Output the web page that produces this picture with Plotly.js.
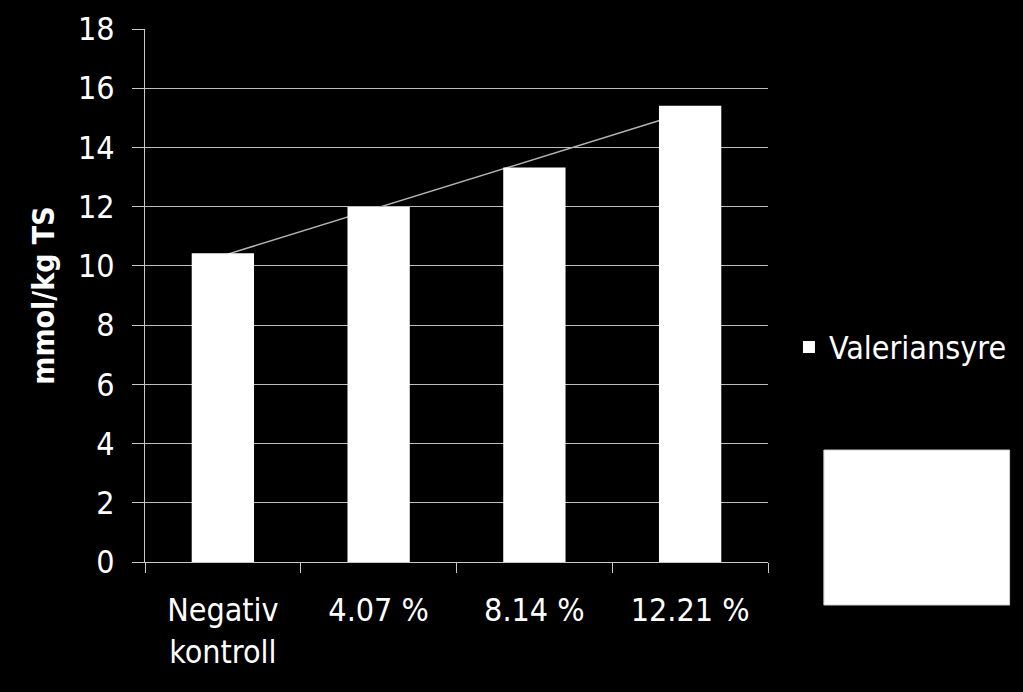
<!DOCTYPE html>
<html>
<head>
<meta charset="utf-8">
<script src="https://cdn.plot.ly/plotly-3.0.1.min.js"></script>
<style>
  html, body { margin: 0; padding: 0; background: #000; }
  #chart { width: 1023px; height: 692px; }
</style>
</head>
<body>
<div id="chart"></div>
<script>
// Categories and values
const categories = ['Negativ<br>kontroll', '4.07 %', '8.14 %', '12.21 %'];
const valeriansyre = [10.43, 11.99, 13.32, 15.41];
const seriesName = 'Valeriansyre';
const yTicks = [0, 2, 4, 6, 8, 10, 12, 14, 16, 18];

const FONT = '"DejaVu Sans Condensed", "DejaVu Sans", sans-serif';

// Linear trendline through the bar values (least squares, like the spreadsheet's trendline)
function linearFit(values) {
    const n = values.length;
    const xs = values.map((_, i) => i);
    const mx = xs.reduce((a, b) => a + b, 0) / n;
    const my = values.reduce((a, b) => a + b, 0) / n;
    let num = 0, den = 0;
    for (let i = 0; i < n; i++) {
        num += (xs[i] - mx) * (values[i] - my);
        den += (xs[i] - mx) * (xs[i] - mx);
    }
    const slope = num / den;
    return x => my + slope * (x - mx);
}
const trend = linearFit(valeriansyre);
const lastIdx = valeriansyre.length - 1;

const data = [{
    type: 'bar',
    x: categories,
    y: valeriansyre,
    name: seriesName,
    marker: { color: '#ffffff', line: { width: 0 } },
    hoverinfo: 'skip'
}];

const layout = {
    width: 1023,
    height: 692,
    paper_bgcolor: '#000000',
    plot_bgcolor: '#000000',
    margin: { l: 145, r: 254, t: 29, b: 130 },
    bargap: 0.6,
    font: { family: FONT, color: '#ffffff', size: 32 },
    showlegend: true,
    legend: {
        x: 1.032,
        y: 0.403,
        xanchor: 'left',
        yanchor: 'middle',
        bgcolor: 'rgba(0,0,0,0)',
        font: { family: FONT, size: 32, color: '#ffffff' },
        itemwidth: 30
    },
    xaxis: {
        type: 'category',
        showline: true,
        linecolor: '#c8c8c8',
        linewidth: 1,
        ticks: 'outside',
        tickson: 'boundaries',
        ticklen: 10,
        tickcolor: '#c8c8c8',
        showgrid: false,
        ticklabelstandoff: 20,
        tickfont: { family: FONT, size: 32, color: '#ffffff' }
    },
    yaxis: {
        range: [0, 18],
        tickvals: yTicks,
        showline: true,
        linecolor: '#c8c8c8',
        linewidth: 1,
        ticks: 'outside',
        ticklen: 12,
        tickcolor: '#c8c8c8',
        showgrid: true,
        gridcolor: '#bdbdbd',
        gridwidth: 1,
        zeroline: false,
        ticklabelstandoff: 11,
        tickfont: { family: FONT, size: 32, color: '#ffffff' },
        title: {
            text: 'mmol/kg TS',
            standoff: 14,
            font: { family: FONT, size: 30, color: '#ffffff', weight: 'bold' }
        }
    },
    shapes: [
        // trendline, drawn between grid and bars
        {
            type: 'line', xref: 'x', yref: 'y', layer: 'between',
            x0: 0, x1: lastIdx, y0: trend(0), y1: trend(lastIdx),
            line: { color: '#b4b4b4', width: 1.5 }
        },
        // blank white legend box to the right
        {
            type: 'rect', xref: 'paper', yref: 'paper',
            x0: 1.0897, x1: 1.3878, y0: -0.0807, y1: 0.2101,
            fillcolor: '#ffffff',
            line: { color: '#d0d0d0', width: 1 }
        }
    ]
};

Plotly.newPlot('chart', data, layout, { staticPlot: true, displayModeBar: false });
</script>
</body>
</html>
